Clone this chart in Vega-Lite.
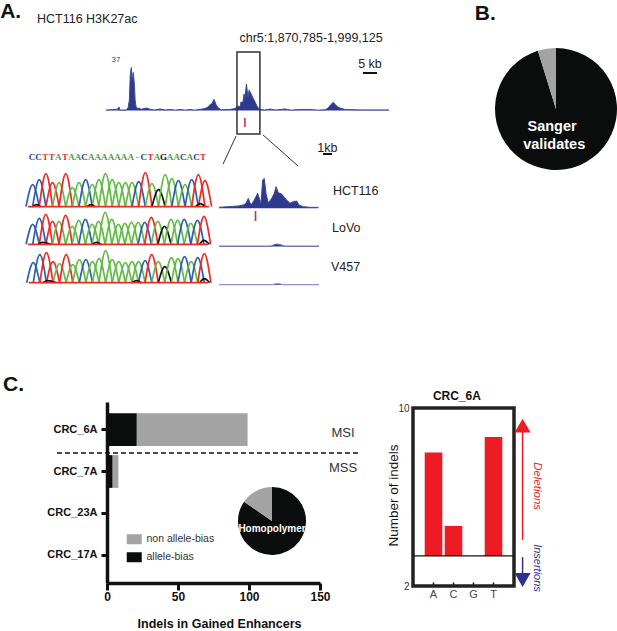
{
"$schema":"https://vega.github.io/schema/vega-lite/v6.json",
"width":617,"height":631,"padding":0,"autosize":{"type":"none"},"background":"white",
"config":{"font":"Liberation Sans","view":{"stroke":null},"axis":{"grid":false}},
"resolve":{"scale":{"x":"independent","y":"independent","color":"independent","theta":"independent"},"axis":{"x":"independent","y":"independent"},"legend":{"color":"independent"}},
"datasets":{
"track":[{"kb":0,"s":0.4},{"kb":4.5,"s":0.9},{"kb":5.4,"s":1.3},{"kb":5.9,"s":3},{"kb":6.3,"s":0.4},{"kb":9.1,"s":0.4},{"kb":10,"s":2.1},{"kb":10.6,"s":8.9},{"kb":11,"s":30.2},{"kb":11.5,"s":36.6},{"kb":11.9,"s":26},{"kb":12.4,"s":32.3},{"kb":12.9,"s":21.7},{"kb":13.2,"s":9},{"kb":13.6,"s":3.5},{"kb":14.1,"s":1.7},{"kb":15,"s":2.1},{"kb":15.9,"s":1},{"kb":17.2,"s":1.7},{"kb":18.6,"s":2.1},{"kb":20,"s":1},{"kb":22,"s":0.4},{"kb":24.5,"s":1.3},{"kb":27,"s":0.4},{"kb":29,"s":0.9},{"kb":31.5,"s":0.3},{"kb":33.6,"s":0.9},{"kb":36,"s":0.3},{"kb":38.1,"s":0.9},{"kb":40,"s":0.3},{"kb":42.6,"s":0.9},{"kb":44.9,"s":1.7},{"kb":46.3,"s":3},{"kb":47.2,"s":5},{"kb":48.1,"s":6},{"kb":49,"s":9.5},{"kb":49.9,"s":5},{"kb":50.8,"s":2.4},{"kb":52.2,"s":0.6},{"kb":56.2,"s":0.9},{"kb":58.5,"s":1.7},{"kb":59.9,"s":3.8},{"kb":60.8,"s":3},{"kb":61.2,"s":7.2},{"kb":62.1,"s":7},{"kb":62.6,"s":14},{"kb":63,"s":11},{"kb":63.7,"s":22.5},{"kb":64.4,"s":11},{"kb":64.9,"s":17.4},{"kb":65.8,"s":14},{"kb":66.7,"s":10.6},{"kb":67.6,"s":7.2},{"kb":68.5,"s":3.7},{"kb":69.4,"s":1.4},{"kb":69.8,"s":0.9},{"kb":72,"s":0.4},{"kb":74.4,"s":1.2},{"kb":77,"s":0.4},{"kb":81.2,"s":1.3},{"kb":84,"s":0.3},{"kb":88,"s":0.9},{"kb":92.5,"s":0.9},{"kb":96,"s":0.3},{"kb":99.3,"s":0.6},{"kb":100.7,"s":2.1},{"kb":102,"s":5},{"kb":103.1,"s":7},{"kb":104.3,"s":4.2},{"kb":105.7,"s":2.4},{"kb":108.4,"s":0.9},{"kb":115.2,"s":0.5},{"kb":128.3,"s":0.5}],
"zoomHCT":[{"kb":59.4,"s":1.2},{"kb":60.37,"s":2},{"kb":61.41,"s":2.9},{"kb":61.93,"s":4.1},{"kb":62.21,"s":6.2},{"kb":62.45,"s":12.3},{"kb":62.62,"s":6.2},{"kb":62.79,"s":4.9},{"kb":63.07,"s":10.3},{"kb":63.42,"s":18.5},{"kb":63.59,"s":12.3},{"kb":63.77,"s":6.2},{"kb":63.94,"s":34.9},{"kb":64.11,"s":36.9},{"kb":64.29,"s":18.5},{"kb":64.53,"s":6.2},{"kb":64.88,"s":12.3},{"kb":65.15,"s":18.5},{"kb":65.33,"s":26.7},{"kb":65.57,"s":19.3},{"kb":65.92,"s":17.6},{"kb":66.26,"s":12.3},{"kb":66.78,"s":6.2},{"kb":67.13,"s":8.2},{"kb":67.48,"s":9},{"kb":67.72,"s":4.1},{"kb":68.17,"s":2},{"kb":68.86,"s":1.2},{"kb":69.73,"s":1.2}],
"zoomLoVo":[{"kb":59.4,"s":0.5},{"kb":64.8,"s":0.5},{"kb":65.1,"s":2},{"kb":65.4,"s":3},{"kb":65.7,"s":2.5},{"kb":66.1,"s":1},{"kb":66.3,"s":0.5},{"kb":69.8,"s":0.5}],
"zoomV457":[{"kb":59.4,"s":0.5},{"kb":65,"s":0.5},{"kb":65.3,"s":1.5},{"kb":65.7,"s":1.5},{"kb":66,"s":0.5},{"kb":69.8,"s":0.5}],
"seq":[{"i":0,"l":"C"},{"i":1,"l":"C"},{"i":2,"l":"T"},{"i":3,"l":"T"},{"i":4,"l":"A"},{"i":5,"l":"T"},{"i":6,"l":"A"},{"i":7,"l":"A"},{"i":8,"l":"C"},{"i":9,"l":"A"},{"i":10,"l":"A"},{"i":11,"l":"A"},{"i":12,"l":"A"},{"i":13,"l":"A"},{"i":14,"l":"A"},{"i":15,"l":"A"},{"i":16,"l":"-"},{"i":17,"l":"C"},{"i":18,"l":"T"},{"i":19,"l":"A"},{"i":20,"l":"G"},{"i":21,"l":"A"},{"i":22,"l":"A"},{"i":23,"l":"C"},{"i":24,"l":"A"},{"i":25,"l":"C"},{"i":26,"l":"T"}],
"baseline":[{"x":-0.7,"x2":26.6,"y":0}],
"c1":[
{"p":0,"b":"C","x":-1,"y":0},{"p":0,"b":"C","x":0,"y":22},{"p":0,"b":"C","x":1,"y":0},
{"p":1,"b":"C","x":0,"y":0},{"p":1,"b":"C","x":1,"y":27},{"p":1,"b":"C","x":2,"y":0},
{"p":2,"b":"T","x":1,"y":0},{"p":2,"b":"T","x":2,"y":33},{"p":2,"b":"T","x":3,"y":0},
{"p":3,"b":"T","x":2,"y":0},{"p":3,"b":"T","x":3,"y":24},{"p":3,"b":"T","x":4,"y":0},
{"p":4,"b":"A","x":3,"y":0},{"p":4,"b":"A","x":4,"y":24},{"p":4,"b":"A","x":5,"y":0},
{"p":5,"b":"T","x":4,"y":0},{"p":5,"b":"T","x":5,"y":33},{"p":5,"b":"T","x":6,"y":0},
{"p":6,"b":"A","x":5,"y":0},{"p":6,"b":"A","x":6,"y":19},{"p":6,"b":"A","x":7,"y":0},
{"p":7,"b":"A","x":6,"y":0},{"p":7,"b":"A","x":7,"y":24},{"p":7,"b":"A","x":8,"y":0},
{"p":8,"b":"C","x":7,"y":0},{"p":8,"b":"C","x":8,"y":27},{"p":8,"b":"C","x":9,"y":0},
{"p":9,"b":"A","x":8,"y":0},{"p":9,"b":"A","x":9,"y":22},{"p":9,"b":"A","x":10,"y":0},
{"p":10,"b":"A","x":9,"y":0},{"p":10,"b":"A","x":10,"y":27},{"p":10,"b":"A","x":11,"y":0},
{"p":11,"b":"A","x":10,"y":0},{"p":11,"b":"A","x":11,"y":33},{"p":11,"b":"A","x":12,"y":0},
{"p":12,"b":"A","x":11,"y":0},{"p":12,"b":"A","x":12,"y":27},{"p":12,"b":"A","x":13,"y":0},
{"p":13,"b":"A","x":12,"y":0},{"p":13,"b":"A","x":13,"y":24},{"p":13,"b":"A","x":14,"y":0},
{"p":14,"b":"A","x":13,"y":0},{"p":14,"b":"A","x":14,"y":24},{"p":14,"b":"A","x":15,"y":0},
{"p":15,"b":"A","x":14,"y":0},{"p":15,"b":"A","x":15,"y":24},{"p":15,"b":"A","x":16,"y":0},
{"p":16,"b":"C","x":15,"y":0},{"p":16,"b":"C","x":16,"y":25},{"p":16,"b":"C","x":17,"y":0},
{"p":17,"b":"T","x":16,"y":0},{"p":17,"b":"T","x":17,"y":34},{"p":17,"b":"T","x":18,"y":0},
{"p":18,"b":"A","x":17,"y":0},{"p":18,"b":"A","x":18,"y":23},{"p":18,"b":"A","x":19,"y":0},
{"p":19,"b":"G","x":18,"y":0},{"p":19,"b":"G","x":19,"y":17},{"p":19,"b":"G","x":20,"y":0},
{"p":20,"b":"A","x":19,"y":0},{"p":20,"b":"A","x":20,"y":32},{"p":20,"b":"A","x":21,"y":0},
{"p":21,"b":"A","x":20,"y":0},{"p":21,"b":"A","x":21,"y":28},{"p":21,"b":"A","x":22,"y":0},
{"p":22,"b":"C","x":21,"y":0},{"p":22,"b":"C","x":22,"y":26},{"p":22,"b":"C","x":23,"y":0},
{"p":23,"b":"A","x":22,"y":0},{"p":23,"b":"A","x":23,"y":22},{"p":23,"b":"A","x":24,"y":0},
{"p":24,"b":"C","x":23,"y":0},{"p":24,"b":"C","x":24,"y":27},{"p":24,"b":"C","x":25,"y":0},
{"p":25,"b":"T","x":24,"y":0},{"p":25,"b":"T","x":25,"y":32},{"p":25,"b":"T","x":26,"y":0},
{"p":26,"b":"T","x":25,"y":0},{"p":26,"b":"T","x":26,"y":26},{"p":26,"b":"T","x":27,"y":0},
{"p":27,"b":"G","x":0,"y":0},{"p":27,"b":"G","x":0.6,"y":2},{"p":27,"b":"G","x":1.2,"y":0},
{"p":28,"b":"G","x":8.2,"y":0},{"p":28,"b":"G","x":8.8,"y":2},{"p":28,"b":"G","x":9.4,"y":0},
{"p":29,"b":"G","x":24.6,"y":0},{"p":29,"b":"G","x":25.3,"y":3},{"p":29,"b":"G","x":26,"y":0}
],
"c2":[
{"p":0,"b":"C","x":-1,"y":0},{"p":0,"b":"C","x":0,"y":20},{"p":0,"b":"C","x":1,"y":0},
{"p":1,"b":"C","x":0,"y":0},{"p":1,"b":"C","x":1,"y":26},{"p":1,"b":"C","x":2,"y":0},
{"p":2,"b":"T","x":1,"y":0},{"p":2,"b":"T","x":2,"y":30},{"p":2,"b":"T","x":3,"y":0},
{"p":3,"b":"T","x":2,"y":0},{"p":3,"b":"T","x":3,"y":23},{"p":3,"b":"T","x":4,"y":0},
{"p":4,"b":"A","x":3,"y":0},{"p":4,"b":"A","x":4,"y":23},{"p":4,"b":"A","x":5,"y":0},
{"p":5,"b":"T","x":4,"y":0},{"p":5,"b":"T","x":5,"y":29},{"p":5,"b":"T","x":6,"y":0},
{"p":6,"b":"A","x":5,"y":0},{"p":6,"b":"A","x":6,"y":18},{"p":6,"b":"A","x":7,"y":0},
{"p":7,"b":"A","x":6,"y":0},{"p":7,"b":"A","x":7,"y":24},{"p":7,"b":"A","x":8,"y":0},
{"p":8,"b":"C","x":7,"y":0},{"p":8,"b":"C","x":8,"y":25},{"p":8,"b":"C","x":9,"y":0},
{"p":9,"b":"A","x":8,"y":0},{"p":9,"b":"A","x":9,"y":20},{"p":9,"b":"A","x":10,"y":0},
{"p":10,"b":"A","x":9,"y":0},{"p":10,"b":"A","x":10,"y":23},{"p":10,"b":"A","x":11,"y":0},
{"p":11,"b":"A","x":10,"y":0},{"p":11,"b":"A","x":11,"y":32},{"p":11,"b":"A","x":12,"y":0},
{"p":12,"b":"A","x":11,"y":0},{"p":12,"b":"A","x":12,"y":25},{"p":12,"b":"A","x":13,"y":0},
{"p":13,"b":"A","x":12,"y":0},{"p":13,"b":"A","x":13,"y":20},{"p":13,"b":"A","x":14,"y":0},
{"p":14,"b":"A","x":13,"y":0},{"p":14,"b":"A","x":14,"y":21},{"p":14,"b":"A","x":15,"y":0},
{"p":15,"b":"A","x":14,"y":0},{"p":15,"b":"A","x":15,"y":22},{"p":15,"b":"A","x":16,"y":0},
{"p":16,"b":"A","x":15,"y":0},{"p":16,"b":"A","x":16,"y":22},{"p":16,"b":"A","x":17,"y":0},
{"p":17,"b":"C","x":16,"y":0},{"p":17,"b":"C","x":17,"y":22},{"p":17,"b":"C","x":18,"y":0},
{"p":18,"b":"T","x":17,"y":0},{"p":18,"b":"T","x":18,"y":27},{"p":18,"b":"T","x":19,"y":0},
{"p":19,"b":"A","x":18,"y":0},{"p":19,"b":"A","x":19,"y":23},{"p":19,"b":"A","x":20,"y":0},
{"p":20,"b":"G","x":19,"y":0},{"p":20,"b":"G","x":20,"y":18},{"p":20,"b":"G","x":21,"y":0},
{"p":21,"b":"A","x":20,"y":0},{"p":21,"b":"A","x":21,"y":25},{"p":21,"b":"A","x":22,"y":0},
{"p":22,"b":"A","x":21,"y":0},{"p":22,"b":"A","x":22,"y":24},{"p":22,"b":"A","x":23,"y":0},
{"p":23,"b":"C","x":22,"y":0},{"p":23,"b":"C","x":23,"y":25},{"p":23,"b":"C","x":24,"y":0},
{"p":24,"b":"A","x":23,"y":0},{"p":24,"b":"A","x":24,"y":21},{"p":24,"b":"A","x":25,"y":0},
{"p":25,"b":"C","x":24,"y":0},{"p":25,"b":"C","x":25,"y":24},{"p":25,"b":"C","x":26,"y":0},
{"p":26,"b":"T","x":25,"y":0},{"p":26,"b":"T","x":26,"y":28},{"p":26,"b":"T","x":27,"y":0},
{"p":27,"b":"G","x":0.8,"y":0},{"p":27,"b":"G","x":1.5,"y":2},{"p":27,"b":"G","x":2.8,"y":0},
{"p":28,"b":"G","x":9,"y":0},{"p":28,"b":"G","x":9.7,"y":2},{"p":28,"b":"G","x":10.4,"y":0},
{"p":29,"b":"G","x":25.3,"y":0},{"p":29,"b":"G","x":26,"y":4},{"p":29,"b":"G","x":26.8,"y":0}
],
"c3":[
{"p":0,"b":"C","x":-1,"y":0},{"p":0,"b":"C","x":0,"y":20},{"p":0,"b":"C","x":1,"y":0},
{"p":1,"b":"C","x":0,"y":0},{"p":1,"b":"C","x":1,"y":28},{"p":1,"b":"C","x":2,"y":0},
{"p":2,"b":"T","x":1,"y":0},{"p":2,"b":"T","x":2,"y":30},{"p":2,"b":"T","x":3,"y":0},
{"p":3,"b":"T","x":2,"y":0},{"p":3,"b":"T","x":3,"y":21},{"p":3,"b":"T","x":4,"y":0},
{"p":4,"b":"A","x":3,"y":0},{"p":4,"b":"A","x":4,"y":19},{"p":4,"b":"A","x":5,"y":0},
{"p":5,"b":"T","x":4,"y":0},{"p":5,"b":"T","x":5,"y":28},{"p":5,"b":"T","x":6,"y":0},
{"p":6,"b":"A","x":5,"y":0},{"p":6,"b":"A","x":6,"y":18},{"p":6,"b":"A","x":7,"y":0},
{"p":7,"b":"A","x":6,"y":0},{"p":7,"b":"A","x":7,"y":23},{"p":7,"b":"A","x":8,"y":0},
{"p":8,"b":"C","x":7,"y":0},{"p":8,"b":"C","x":8,"y":23},{"p":8,"b":"C","x":9,"y":0},
{"p":9,"b":"A","x":8,"y":0},{"p":9,"b":"A","x":9,"y":21},{"p":9,"b":"A","x":10,"y":0},
{"p":10,"b":"A","x":9,"y":0},{"p":10,"b":"A","x":10,"y":24},{"p":10,"b":"A","x":11,"y":0},
{"p":11,"b":"A","x":10,"y":0},{"p":11,"b":"A","x":11,"y":32},{"p":11,"b":"A","x":12,"y":0},
{"p":12,"b":"A","x":11,"y":0},{"p":12,"b":"A","x":12,"y":23},{"p":12,"b":"A","x":13,"y":0},
{"p":13,"b":"A","x":12,"y":0},{"p":13,"b":"A","x":13,"y":21},{"p":13,"b":"A","x":14,"y":0},
{"p":14,"b":"A","x":13,"y":0},{"p":14,"b":"A","x":14,"y":20},{"p":14,"b":"A","x":15,"y":0},
{"p":15,"b":"A","x":14,"y":0},{"p":15,"b":"A","x":15,"y":21},{"p":15,"b":"A","x":16,"y":0},
{"p":16,"b":"A","x":15,"y":0},{"p":16,"b":"A","x":16,"y":21},{"p":16,"b":"A","x":17,"y":0},
{"p":17,"b":"C","x":16,"y":0},{"p":17,"b":"C","x":17,"y":22},{"p":17,"b":"C","x":18,"y":0},
{"p":18,"b":"T","x":17,"y":0},{"p":18,"b":"T","x":18,"y":28},{"p":18,"b":"T","x":19,"y":0},
{"p":19,"b":"A","x":18,"y":0},{"p":19,"b":"A","x":19,"y":21},{"p":19,"b":"A","x":20,"y":0},
{"p":20,"b":"G","x":19,"y":0},{"p":20,"b":"G","x":20,"y":16},{"p":20,"b":"G","x":21,"y":0},
{"p":21,"b":"A","x":20,"y":0},{"p":21,"b":"A","x":21,"y":25},{"p":21,"b":"A","x":22,"y":0},
{"p":22,"b":"A","x":21,"y":0},{"p":22,"b":"A","x":22,"y":24},{"p":22,"b":"A","x":23,"y":0},
{"p":23,"b":"C","x":22,"y":0},{"p":23,"b":"C","x":23,"y":26},{"p":23,"b":"C","x":24,"y":0},
{"p":24,"b":"A","x":23,"y":0},{"p":24,"b":"A","x":24,"y":21},{"p":24,"b":"A","x":25,"y":0},
{"p":25,"b":"C","x":24,"y":0},{"p":25,"b":"C","x":25,"y":25},{"p":25,"b":"C","x":26,"y":0},
{"p":26,"b":"T","x":25,"y":0},{"p":26,"b":"T","x":26,"y":29},{"p":26,"b":"T","x":27,"y":0},
{"p":27,"b":"G","x":1.5,"y":0},{"p":27,"b":"G","x":2.2,"y":2},{"p":27,"b":"G","x":3.5,"y":0},
{"p":28,"b":"G","x":15,"y":0},{"p":28,"b":"G","x":15.7,"y":2},{"p":28,"b":"G","x":16.4,"y":0},
{"p":29,"b":"G","x":25.3,"y":0},{"p":29,"b":"G","x":26,"y":4},{"p":29,"b":"G","x":26.8,"y":0}
]
},
"layer":[
{"data":{"name":"track"},
 "encoding":{"x":{"field":"kb","type":"quantitative","axis":null,"scale":{"domain":[0,128.34],"range":[106,389]}},"y":{"field":"s","type":"quantitative","axis":null,"scale":{"domain":[0,37],"range":[110.5,67]}}},
 "layer":[
  {"mark":{"type":"area","color":"#2E3A8C","opacity":1,"line":{"color":"#3D4A9A","strokeWidth":1,"opacity":1}}},
  {"data":{"values":[{"kb":59.4,"kb2":69.8,"s":49.7,"s2":-20}]},"mark":{"type":"rect","fill":null,"stroke":"#333333","strokeWidth":1.5},"encoding":{"x2":{"field":"kb2"},"y2":{"field":"s2"}}},
  {"data":{"values":[{"kb":63,"s":-6.4,"s2":-14}]},"mark":{"type":"rule","color":"#D2232A","strokeWidth":1.5},"encoding":{"y2":{"field":"s2"}}},
  {"data":{"values":[{"kb":59,"s":-21.7,"kb2":53.1,"s2":-45.5},{"kb":71.2,"s":-20.8,"kb2":87.1,"s2":-47.2}]},"mark":{"type":"rule","color":"#333333","strokeWidth":1},"encoding":{"x2":{"field":"kb2"},"y2":{"field":"s2"}}},
  {"data":{"values":[{"kb":116.5,"kb2":122.9,"s":31.9},{"kb":98.4,"kb2":102.5,"s":-37}]},"mark":{"type":"rule","color":"#111111","strokeWidth":2},"encoding":{"x2":{"field":"kb2"}}},
  {"data":{"values":[{"t":"A.","kb":-48,"s":83.5}]},"mark":{"type":"text","align":"left","baseline":"middle","fontSize":21,"fontWeight":"bold","color":"#111111"},"encoding":{"text":{"field":"t"}}},
  {"data":{"values":[{"t":"HCT116 H3K27ac","kb":-31.3,"s":77.8},{"t":"HCT116","kb":102.9,"s":-68.5},{"t":"LoVo","kb":102.5,"s":-99.9},{"t":"V457","kb":102,"s":-133}]},"mark":{"type":"text","align":"left","baseline":"middle","fontSize":12.5,"color":"#222222"},"encoding":{"text":{"field":"t"}}},
  {"data":{"values":[{"t":"chr5:1,870,785-1,999,125","kb":93,"s":61.6},{"t":"5 kb","kb":119.7,"s":39.5},{"t":"1kb","kb":100.4,"s":-31.9}]},"mark":{"type":"text","align":"center","baseline":"middle","fontSize":12.5,"color":"#222222"},"encoding":{"text":{"field":"t"}}},
  {"data":{"values":[{"t":"37","kb":4.5,"s":42.9}]},"mark":{"type":"text","align":"center","baseline":"middle","fontSize":8,"color":"#444444"},"encoding":{"text":{"field":"t"}}}
 ]},
{"data":{"name":"seq"},"mark":{"type":"text","font":"Liberation Serif","fontWeight":"bold","fontSize":9,"baseline":"middle"},
 "encoding":{"x":{"field":"i","type":"quantitative","axis":null,"scale":{"domain":[0,26],"range":[32,203]}},"y":{"datum":0,"type":"quantitative","axis":null,"scale":{"domain":[-1,1],"range":[167,147]}},"text":{"field":"l"},
 "color":{"field":"l","type":"nominal","legend":null,"scale":{"domain":["A","C","G","T","-"],"range":["#4E9A3C","#2E3A8C","#111111","#E8312A","#4E9A3C"]}}}},
{"encoding":{"x":{"field":"x","type":"quantitative","axis":null,"scale":{"domain":[-1,27],"range":[26,211.6]}},"y":{"field":"y","type":"quantitative","axis":null,"scale":{"domain":[0,36],"range":[206.7,170.7]}}},
 "layer":[
  {"data":{"name":"c1"},"mark":{"type":"line","interpolate":"monotone","strokeWidth":1.7},"encoding":{"detail":{"field":"p"},"color":{"field":"b","type":"nominal","legend":null,"scale":{"domain":["A","C","G","T"],"range":["#62BB46","#2D5FAE","#111111","#EE2A24"]}}}},
  {"data":{"name":"baseline"},"mark":{"type":"rule","color":"#EE2A24","strokeWidth":1.8},"encoding":{"x2":{"field":"x2"}}}
 ]},
{"encoding":{"x":{"field":"x","type":"quantitative","axis":null,"scale":{"domain":[-1,27],"range":[26.1,210.6]}},"y":{"field":"y","type":"quantitative","axis":null,"scale":{"domain":[0,36],"range":[244.3,208.3]}}},
 "layer":[
  {"data":{"name":"c2"},"mark":{"type":"line","interpolate":"monotone","strokeWidth":1.7},"encoding":{"detail":{"field":"p"},"color":{"field":"b","type":"nominal","legend":null,"scale":{"domain":["A","C","G","T"],"range":["#62BB46","#2D5FAE","#111111","#EE2A24"]}}}},
  {"data":{"name":"baseline"},"mark":{"type":"rule","color":"#EE2A24","strokeWidth":1.8},"encoding":{"x2":{"field":"x2"}}}
 ]},
{"encoding":{"x":{"field":"x","type":"quantitative","axis":null,"scale":{"domain":[-1,27],"range":[26.7,210.9]}},"y":{"field":"y","type":"quantitative","axis":null,"scale":{"domain":[0,36],"range":[282.7,246.7]}}},
 "layer":[
  {"data":{"name":"c3"},"mark":{"type":"line","interpolate":"monotone","strokeWidth":1.7},"encoding":{"detail":{"field":"p"},"color":{"field":"b","type":"nominal","legend":null,"scale":{"domain":["A","C","G","T"],"range":["#62BB46","#2D5FAE","#111111","#EE2A24"]}}}},
  {"data":{"name":"baseline"},"mark":{"type":"rule","color":"#EE2A24","strokeWidth":1.8},"encoding":{"x2":{"field":"x2"}}}
 ]},
{"encoding":{"x":{"field":"kb","type":"quantitative","axis":null,"scale":{"domain":[59.4,69.8],"range":[219,319]}},"y":{"field":"s","type":"quantitative","axis":null,"scale":{"domain":[0,37],"range":[208.3,178.3]}}},
 "layer":[
  {"data":{"name":"zoomHCT"},"mark":{"type":"area","color":"#2E3A8C","opacity":1,"line":{"color":"#3D4A9A","strokeWidth":1,"opacity":1}}},
  {"data":{"values":[{"kb":63.2,"s":-3.4,"s2":-15.7}]},"mark":{"type":"rule","color":"#C4323A","strokeWidth":1.6},"encoding":{"y2":{"field":"s2"}}}
 ]},
{"data":{"name":"zoomLoVo"},"mark":{"type":"area","color":"#2E3A8C","opacity":1,"line":{"color":"#5A63A8","strokeWidth":1,"opacity":1}},
 "encoding":{"x":{"field":"kb","type":"quantitative","axis":null,"scale":{"domain":[59.4,69.8],"range":[219,319]}},"y":{"field":"s","type":"quantitative","axis":null,"scale":{"domain":[0,37],"range":[246.5,216.5]}}}},
{"data":{"name":"zoomV457"},"mark":{"type":"area","color":"#2E3A8C","opacity":1,"line":{"color":"#8C93C8","strokeWidth":1.2,"opacity":1}},
 "encoding":{"x":{"field":"kb","type":"quantitative","axis":null,"scale":{"domain":[59.4,69.8],"range":[219,319]}},"y":{"field":"s","type":"quantitative","axis":null,"scale":{"domain":[0,37],"range":[285,255]}}}},
{"encoding":{"x":{"field":"u","type":"quantitative","axis":null,"scale":{"domain":[-1,1],"range":[495,617]}},"y":{"field":"v","type":"quantitative","axis":null,"scale":{"domain":[-1,1],"range":[170,48]}}},
 "layer":[
  {"data":{"values":[{"part":"validated","share":95.2,"rank":1,"u":0,"v":0},{"part":"not validated","share":4.8,"rank":2,"u":0,"v":0}]},"mark":{"type":"arc","outerRadius":61},
   "encoding":{"theta":{"field":"share","type":"quantitative","stack":true},"order":{"field":"rank"},"color":{"field":"part","type":"nominal","legend":null,"scale":{"domain":["validated","not validated"],"range":["#0B0C0C","#A3A3A3"]}}}},
  {"data":{"values":[{"t":"Sanger","u":-0.065,"v":-0.295},{"t":"validates","u":-0.03,"v":-0.59}]},"mark":{"type":"text","color":"white","fontWeight":"bold","fontSize":14.5,"baseline":"middle"},"encoding":{"text":{"field":"t"}}},
  {"data":{"values":[{"t":"B.","u":-1.33,"v":1.56}]},"mark":{"type":"text","color":"#111111","align":"left","fontWeight":"bold","fontSize":21,"baseline":"middle"},"encoding":{"text":{"field":"t"}}}
 ]},
{"data":{"values":[{"sample":"CRC_6A","type":"allele-bias","count":21,"rank":1},{"sample":"CRC_6A","type":"non allele-bias","count":78,"rank":2},{"sample":"CRC_7A","type":"allele-bias","count":4,"rank":1},{"sample":"CRC_7A","type":"non allele-bias","count":4,"rank":2},{"sample":"CRC_23A","type":"allele-bias","count":0,"rank":1},{"sample":"CRC_23A","type":"non allele-bias","count":0,"rank":2},{"sample":"CRC_17A","type":"allele-bias","count":0,"rank":1},{"sample":"CRC_17A","type":"non allele-bias","count":0,"rank":2}]},
 "mark":{"type":"bar"},
 "encoding":{
  "y":{"field":"sample","type":"nominal","title":null,"scale":{"type":"band","domain":["CRC_6A","CRC_7A","CRC_23A","CRC_17A"],"range":[402,583],"paddingInner":0.22,"paddingOuter":0.265},
   "axis":{"orient":"left","offset":-107,"domainWidth":3.5,"domainColor":"#111111","tickWidth":3,"tickSize":6,"tickColor":"#111111","labelFontWeight":"bold","labelFontSize":11,"labelColor":"#111111","labelPadding":4}},
  "x":{"field":"count","type":"quantitative","stack":true,"scale":{"domain":[0,150],"range":[107,320]},
   "axis":{"orient":"bottom","offset":-48,"values":[0,50,100,150],"labelFlush":false,"title":"Indels in Gained Enhancers","titleFontSize":12.5,"titleFontWeight":"bold","titleColor":"#111111","titleX":219,"titleY":40,"titleBaseline":"middle","domainWidth":3.5,"domainColor":"#111111","tickWidth":3,"tickSize":7,"tickColor":"#111111","labelFontWeight":"bold","labelFontSize":12,"labelColor":"#111111","labelPadding":1}},
  "order":{"field":"rank"},
  "color":{"field":"type","type":"nominal","scale":{"domain":["non allele-bias","allele-bias"],"range":["#A3A3A3","#0B0C0C"]},
   "legend":{"title":null,"orient":"none","legendX":129,"legendY":534,"symbolType":"M-1.5,-1L1.5,-1L1.5,1L-1.5,1Z","symbolSize":100,"symbolStrokeWidth":0,"labelFontSize":10.5,"labelColor":"#333333","labelOffset":7,"rowPadding":7}}
 }},
{"encoding":{"x":{"field":"indels","type":"quantitative","axis":null,"scale":{"domain":[0,150],"range":[107,320]}},"y":{"field":"pos","type":"quantitative","axis":null,"scale":{"domain":[-0.667,3.643],"range":[402,583]}}},
 "layer":[
  {"data":{"values":[{"indels":-35.2,"indels2":178,"pos":0.548}]},"mark":{"type":"rule","color":"#111111","strokeWidth":1.5,"strokeDash":[5,3]},"encoding":{"x2":{"field":"indels2"}}},
  {"data":{"values":[{"t":"MSI","indels":166.2,"pos":0.08},{"t":"MSS","indels":166.2,"pos":0.905}]},"mark":{"type":"text","fontSize":13,"color":"#333333","baseline":"middle"},"encoding":{"text":{"field":"t"}}},
  {"data":{"values":[{"t":"C.","indels":-73.2,"pos":-1.07}]},"mark":{"type":"text","fontSize":21,"fontWeight":"bold","color":"#111111","align":"left","baseline":"middle"},"encoding":{"text":{"field":"t"}}}
 ]},
{"encoding":{"x":{"field":"u","type":"quantitative","axis":null,"scale":{"domain":[-1,1],"range":[238,306]}},"y":{"field":"v","type":"quantitative","axis":null,"scale":{"domain":[-1,1],"range":[555,487]}}},
 "layer":[
  {"data":{"values":[{"part":"homopolymer","share":84.6,"rank":1,"u":0,"v":0},{"part":"other","share":15.4,"rank":2,"u":0,"v":0}]},"mark":{"type":"arc","outerRadius":34},
   "encoding":{"theta":{"field":"share","type":"quantitative","stack":true},"order":{"field":"rank"},"color":{"field":"part","type":"nominal","legend":null,"scale":{"domain":["homopolymer","other"],"range":["#0B0C0C","#A3A3A3"]}}}},
  {"data":{"values":[{"t":"Homopolymer","u":0,"v":-0.235}]},"mark":{"type":"text","color":"white","fontWeight":"bold","fontSize":10,"baseline":"middle"},"encoding":{"text":{"field":"t"}}}
 ]},
{"data":{"values":[{"base":"A","indels":8,"floor":3.35},{"base":"C","indels":4.7,"floor":3.35},{"base":"T","indels":8.7,"floor":3.35}]},
 "mark":{"type":"bar","color":"#ED1C24"},
 "encoding":{
  "x":{"field":"base","type":"nominal","title":null,"scale":{"type":"band","domain":["A","C","G","T"],"range":[413,514],"paddingInner":0.12,"paddingOuter":0.585},
   "axis":{"orient":"bottom","offset":-45,"domain":false,"labelAngle":0,"tickSize":-4,"tickWidth":1.5,"tickColor":"#111111","labelFontSize":11,"labelColor":"#444444","labelPadding":6}},
  "y":{"field":"indels","type":"quantitative","scale":{"domain":[2,10],"range":[586,408]},
   "axis":{"orient":"left","offset":-413,"values":[2,10],"domain":false,"ticks":false,"labelFontSize":10,"labelColor":"#333333","labelPadding":4,"title":"Number of indels","titleFontSize":13.5,"titleFontWeight":"normal","titleColor":"#111111","titleAngle":-90,"titleX":-20,"titleY":495,"titleBaseline":"middle","titleAlign":"center"}},
  "y2":{"field":"floor"}
 }},
{"encoding":{"x":{"field":"fx","type":"quantitative","axis":null,"scale":{"domain":[0,4],"range":[413,514]}},"y":{"field":"fy","type":"quantitative","axis":null,"scale":{"domain":[2,10],"range":[586,408]}}},
 "layer":[
  {"data":{"values":[{"fx":0,"fx2":4,"fy":2,"fy2":10}]},"mark":{"type":"rect","fill":null,"stroke":"#222222","strokeWidth":3.5},"encoding":{"x2":{"field":"fx2"},"y2":{"field":"fy2"}}},
  {"data":{"values":[{"fx":0,"fx2":4,"fy":3.35}]},"mark":{"type":"rule","color":"#111111","strokeWidth":1.3},"encoding":{"x2":{"field":"fx2"}}},
  {"data":{"values":[{"fx":4.34,"fy":4.07,"fy2":9.15}]},"mark":{"type":"rule","color":"#ED1C24","strokeWidth":1.5},"encoding":{"y2":{"field":"fy2"}}},
  {"data":{"values":[{"fx":4.34,"fy":3.3,"fy2":2.5}]},"mark":{"type":"rule","color":"#2E3192","strokeWidth":1.5},"encoding":{"y2":{"field":"fy2"}}},
  {"data":{"values":[{"fx":4.34,"fy":9.21}]},"mark":{"type":"point","shape":"triangle-up","filled":true,"size":256,"color":"#ED1C24","opacity":1}},
  {"data":{"values":[{"fx":4.34,"fy":2.27}]},"mark":{"type":"point","shape":"triangle-down","filled":true,"size":256,"color":"#2E3192","opacity":1}},
  {"data":{"values":[{"t":"Deletions","fx":4.91,"fy":6.49}]},"mark":{"type":"text","angle":90,"fontStyle":"italic","fontSize":11.5,"color":"#ED1C24","baseline":"middle"},"encoding":{"text":{"field":"t"}}},
  {"data":{"values":[{"t":"Insertions","fx":4.91,"fy":2.81}]},"mark":{"type":"text","angle":90,"fontStyle":"italic","fontSize":11,"color":"#2E3192","baseline":"middle"},"encoding":{"text":{"field":"t"}}},
  {"data":{"values":[{"t":"CRC_6A","fx":1.74,"fy":10.54}]},"mark":{"type":"text","fontWeight":"bold","fontSize":12,"color":"#111111","baseline":"middle"},"encoding":{"text":{"field":"t"}}}
 ]}
]
}
